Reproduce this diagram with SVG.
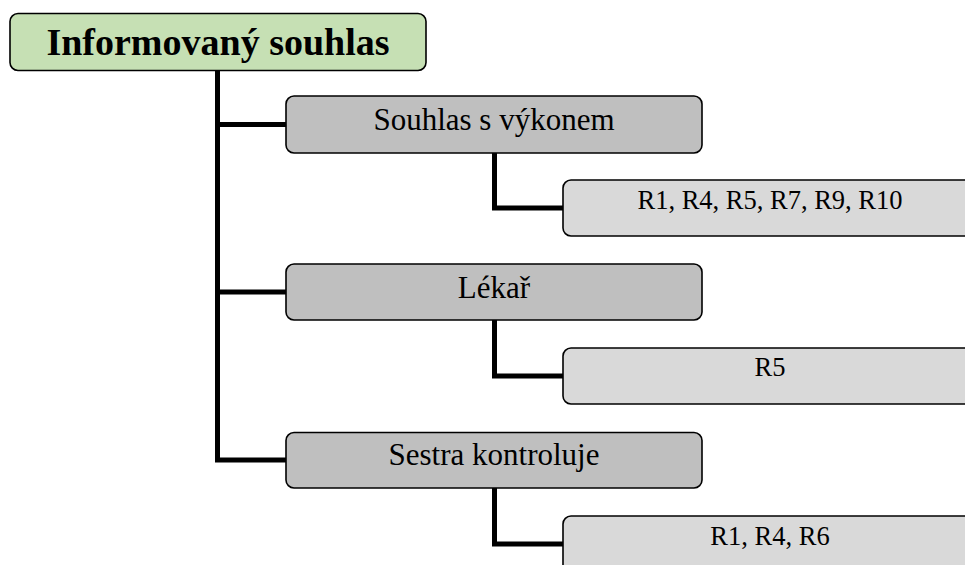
<svg xmlns="http://www.w3.org/2000/svg" width="965" height="565" viewBox="0 0 965 565">
<style>
.box{stroke:#000;stroke-width:1.6}
.root{fill:#c6e0b4}
.child{fill:#bfbfbf}
.leaf{fill:#d9d9d9}
.t{font-family:"Liberation Serif","Times New Roman",serif;fill:#000;text-anchor:middle}
.tr{font-size:38px;font-weight:bold}
.tc{font-size:31px}
.tl{font-size:26.5px}
.conn{fill:none;stroke:#000;stroke-width:5;stroke-linejoin:miter;stroke-linecap:butt}
</style>
<rect width="965" height="565" fill="#fff"/>
<g id="connectors">
<path class="conn" d="M217.5 70 V460 H286"/>
<path class="conn" d="M217.5 124.5 H286"/>
<path class="conn" d="M217.5 292 H286"/>
<path class="conn" d="M494.5 153 V208 H563"/>
<path class="conn" d="M494.5 320 V376 H563"/>
<path class="conn" d="M494.5 488 V544 H563"/>
</g>
<g id="root">
<rect class="box root" x="10" y="13.5" width="416" height="57" rx="8"/>
<text class="t tr" x="218" y="55">Informovaný souhlas</text>
</g>
<g id="n1">
<rect class="box child" x="286" y="96" width="416" height="57" rx="8"/>
<text class="t tc" x="494" y="130">Souhlas s výkonem</text>
</g>
<g id="n1a">
<rect class="box leaf" x="563" y="180" width="420" height="56" rx="8"/>
<text class="t tl" x="770" y="209">R1, R4, R5, R7, R9, R10</text>
</g>
<g id="n2">
<rect class="box child" x="286" y="264" width="416" height="56" rx="8"/>
<text class="t tc" x="494" y="298">Lékař</text>
</g>
<g id="n2a">
<rect class="box leaf" x="563" y="348" width="420" height="56" rx="8"/>
<text class="t tl" x="770" y="376">R5</text>
</g>
<g id="n3">
<rect class="box child" x="286" y="432.5" width="416" height="55.5" rx="8"/>
<text class="t tc" x="494" y="465">Sestra kontroluje</text>
</g>
<g id="n3a">
<rect class="box leaf" x="563" y="516" width="420" height="60" rx="8"/>
<text class="t tl" x="770" y="545">R1, R4, R6</text>
</g>
</svg>
